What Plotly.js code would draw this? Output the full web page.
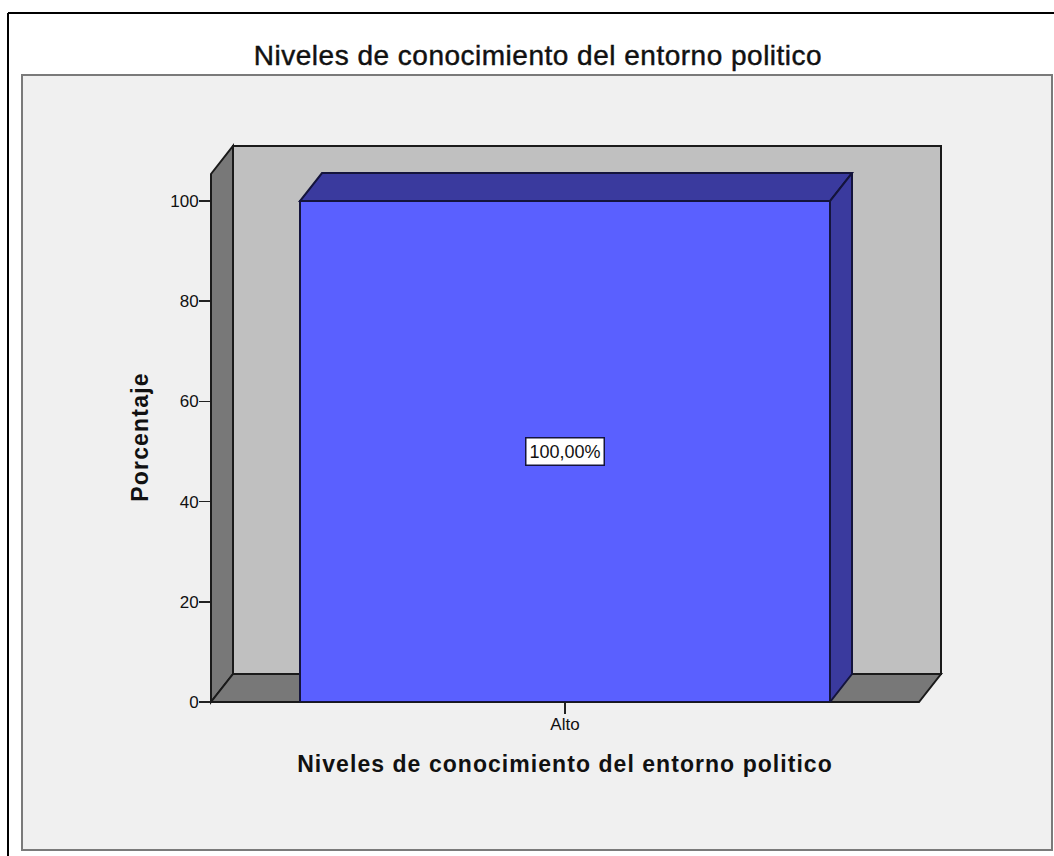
<!DOCTYPE html>
<html>
<head>
<meta charset="utf-8">
<script src="https://cdn.plot.ly/plotly-3.0.1.min.js"></script>
<style>
html,body{margin:0;padding:0;background:#fff;}
#chart{width:1054px;height:856px;}
.xtitle{letter-spacing:1.05px;}
.ytitle{letter-spacing:1.2px;}
.gtitle{stroke:#111;stroke-width:0.45px;letter-spacing:0.5px;}
</style>
</head>
<body>
<div id="chart"></div>
<script>
const chartTitle = 'Niveles de conocimiento del entorno politico';
const xAxisTitle = 'Niveles de conocimiento del entorno politico';
const yAxisTitle = 'Porcentaje';
const categories = ['Alto'];
const values = [100];
const yTicks = [0, 20, 40, 60, 80, 100];

const W = 1054, H = 856;
const M = {l: 211, r: 135, t: 172, b: 154};
const plotW = W - M.l - M.r, plotH = H - M.t - M.b;
const FONT = '"Liberation Sans", Arial, sans-serif';

// Front plane of the box fills the plot area; depth is expressed in axis units.
const yUnit = plotH / 105.8;
const depthX = 22 / plotW, depthY = 28 / yUnit;
const xMin = -0.5, xMax = 0.5;
const yMin = 0, yMax = 105.8;
const wallTop = 105.4;
const barWidth = 0.7486;
const xs = categories.map((_, i) => i);

const edge = {color: '#1a1a1a', width: 2};
const barEdge = {color: '#14143c', width: 2};
const toPaperX = v => (v - xMin) / (xMax - xMin);
const toPaperY = v => (v - yMin) / (yMax - yMin);
// walls reach past the plot area, so they are placed in paper space
const wall = (pts, fill) => ({
  type: 'path', layer: 'below', xref: 'paper', yref: 'paper',
  path: 'M' + pts.map(p => toPaperX(p[0]) + ',' + toPaperY(p[1])).join('L') + 'Z',
  fillcolor: fill, line: edge
});
const face = (pts, fill) => ({
  type: 'path', layer: 'below', xref: 'x', yref: 'y',
  path: 'M' + pts.map(p => p[0] + ',' + p[1]).join('L') + 'Z',
  fillcolor: fill, line: barEdge
});
const pageX = v => (v - M.l) / plotW, pageY = v => (H - M.b - v) / plotH;
const paperRect = (x0, y0, x1, y1, fill, ln) => ({
  type: 'rect', layer: 'below', xref: 'paper', yref: 'paper',
  x0: pageX(x0), x1: pageX(x1), y0: pageY(y0), y1: pageY(y1),
  fillcolor: fill, line: ln
});
const paperLine = (x0, y0, x1, y1, ln) => ({
  type: 'line', layer: 'below', xref: 'paper', yref: 'paper',
  x0: pageX(x0), x1: pageX(x1), y0: pageY(y0), y1: pageY(y1),
  line: ln
});

const shapes = [
  paperLine(8, 13, 1054, 13, {color: '#000', width: 2}),
  paperLine(8, 13, 8, 856, {color: '#000', width: 2}),
  paperRect(22, 75, 1052, 850, '#f0f0f0', {color: '#7a7a7a', width: 2}),
  // back wall
  wall([[xMin + depthX, depthY], [xMax + depthX, depthY],
        [xMax + depthX, wallTop + depthY], [xMin + depthX, wallTop + depthY]], '#c0c0c0'),
  // left wall
  wall([[xMin, 0], [xMin + depthX, depthY],
        [xMin + depthX, wallTop + depthY], [xMin, wallTop]], '#787878'),
  // floor
  wall([[xMin, 0], [xMax, 0],
        [xMax + depthX, depthY], [xMin + depthX, depthY]], '#787878')
];
xs.forEach((x, i) => {
  const a = x - barWidth / 2, b = x + barWidth / 2, v = values[i];
  shapes.push(face([[a, v], [b, v], [b + depthX, v + depthY], [a + depthX, v + depthY]], '#3a3a9e'));
  shapes.push(face([[b, 0], [b + depthX, depthY], [b + depthX, v + depthY], [b, v]], '#3a3a9e'));
});

const data = [{
  type: 'bar',
  x: xs,
  y: values,
  width: barWidth,
  marker: {color: '#5a60ff', line: barEdge},
  cliponaxis: false,
  hoverinfo: 'skip'
}];

const annotations = xs.map((x, i) => ({
  xref: 'x', yref: 'y', x: x, y: values[i] / 2,
  text: values[i].toFixed(2).replace('.', ',') + '%',
  showarrow: false,
  font: {family: FONT, size: 18, color: '#111'},
  bgcolor: '#ffffff',
  bordercolor: '#14143c',
  borderwidth: 1.5,
  borderpad: 3
}));

const layout = {
  width: W, height: H,
  margin: M,
  autosize: false,
  showlegend: false,
  paper_bgcolor: '#ffffff',
  plot_bgcolor: 'rgba(0,0,0,0)',
  font: {family: FONT, color: '#111'},
  title: {
    text: chartTitle,
    font: {family: FONT, size: 28, color: '#111'},
    x: pageX(538), xanchor: 'center', xref: 'paper',
    y: 1 - 55 / H, yanchor: 'middle', yref: 'container'
  },
  xaxis: {
    range: [xMin, xMax],
    tickmode: 'array',
    tickvals: xs,
    ticktext: categories,
    ticks: 'outside', ticklen: 11, tickwidth: 1.5, tickcolor: '#222',
    tickfont: {family: FONT, size: 17, color: '#111'},
    ticklabelstandoff: -4,
    showgrid: false, zeroline: false, showline: false, fixedrange: true,
    title: {
      text: xAxisTitle,
      standoff: 22,
      font: {family: FONT, size: 23, color: '#111', weight: 700}
    }
  },
  yaxis: {
    range: [yMin, yMax],
    tickmode: 'array',
    tickvals: yTicks,
    ticktext: yTicks.map(String),
    ticks: 'outside', ticklen: 11, tickwidth: 1.5, tickcolor: '#222',
    tickfont: {family: FONT, size: 17, color: '#111'},
    ticklabelstandoff: -3,
    showgrid: false, zeroline: false, showline: false, fixedrange: true,
    title: {
      text: yAxisTitle,
      standoff: 15,
      font: {family: FONT, size: 23, color: '#111', weight: 700}
    }
  },
  shapes: shapes,
  annotations: annotations
};

Plotly.newPlot('chart', data, layout, {displayModeBar: false, staticPlot: true});
</script>
</body>
</html>
